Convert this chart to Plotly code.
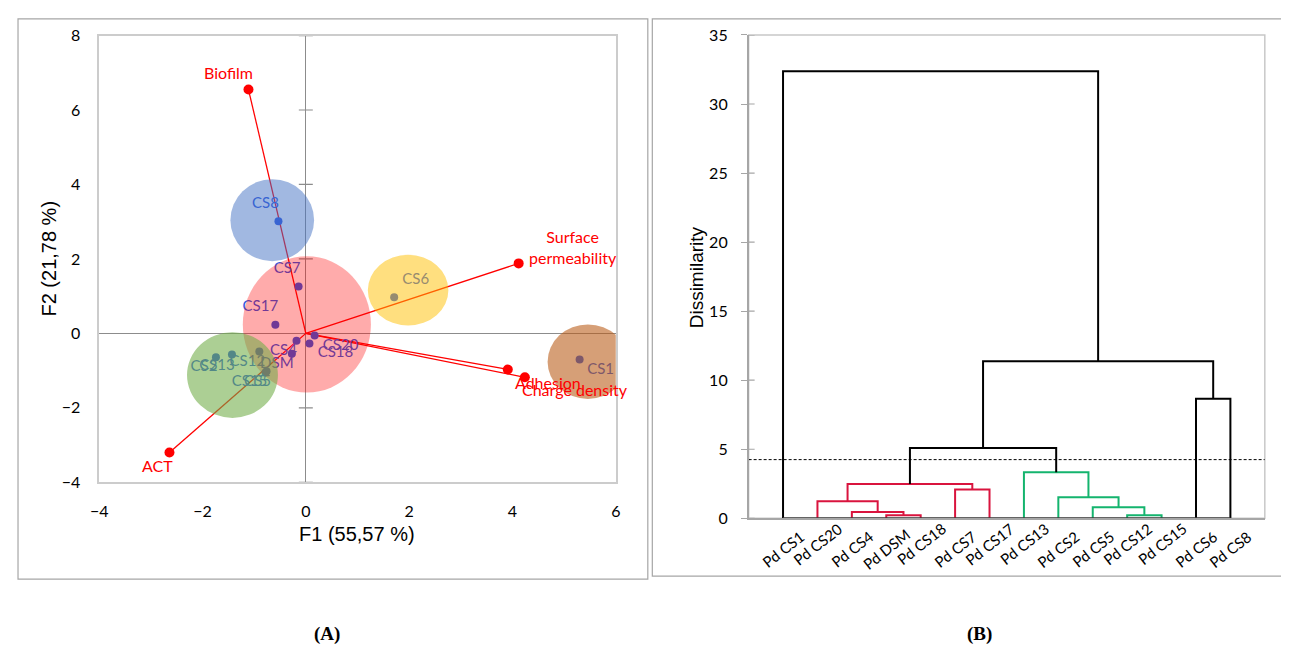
import plotly.graph_objects as go

# ---- page/capture calibration: reference pixel -> figure pixel ----
SX, SY, CX, CY, BODY = 0.988, 0.970, 10.0, 10.0, 8.0
W, H = 1287, 649


def fx(x):
    return (x - CX) / SX - BODY


def fy(y):
    return (y - CY) / SY - BODY


def px(x):
    return fx(x) / W


def py(y):
    return 1 - fy(y) / H


# ---------------- Panel A data (PCA biplot, F1 x F2) ----------------
obs_names = ["CS1", "CS2", "CS4", "CS5", "CS6", "CS7", "CS8", "CS12",
             "CS13", "CS15", "CS17", "CS18", "CS20", "DSM"]
obs_f1 = [5.30, -1.74, -0.18, -0.76, 1.71, -0.14, -0.53, -0.90,
          -1.43, -0.78, -0.59, 0.07, 0.17, -0.27]
obs_f2 = [-0.70, -0.64, -0.20, -1.02, 0.97, 1.26, 3.01, -0.49,
          -0.57, -1.05, 0.23, -0.27, -0.06, -0.55]

var_names = ["Biofilm", "Surface<br>permeability", "Adhesion", "Charge density", "ACT"]
var_f1 = [-1.11, 4.12, 3.91, 4.24, -2.64]
var_f2 = [6.55, 1.88, -0.97, -1.18, -3.20]

f1_ticks = [-4, -2, 0, 2, 4, 6]
f2_ticks = [-4, -2, 0, 2, 4, 6, 8]
f1_title = "F1 (55,57 %)"
f2_title = "F2 (21,78 %)"

# ---------------- Panel B data (dendrogram) ----------------
dend_leaves = ["Pd CS1", "Pd CS20", "Pd CS4", "Pd DSM", "Pd CS18", "Pd CS7", "Pd CS17",
               "Pd CS13", "Pd CS2", "Pd CS5", "Pd CS12", "Pd CS15", "Pd CS6", "Pd CS8"]
# merge k creates node "n{k+1}"
merge_left = ["Pd DSM", "Pd CS4", "Pd CS20", "Pd CS7", "n3", "Pd CS12", "Pd CS5",
              "Pd CS2", "Pd CS13", "n5", "Pd CS6", "n10", "Pd CS1"]
merge_right = ["Pd CS18", "n1", "n2", "Pd CS17", "n4", "Pd CS15", "n6",
               "n7", "n8", "n9", "Pd CS8", "n11", "n12"]
merge_height = [0.22, 0.46, 1.23, 2.08, 2.49, 0.22, 0.80, 1.52, 3.34, 5.09, 8.65, 11.38, 32.37]
merge_group = ["red", "red", "red", "red", "red", "green", "green", "green", "green",
               "black", "black", "black", "black"]
cut_level = 4.25
dis_ticks = [0, 5, 10, 15, 20, 25, 30, 35]
dis_title = "Dissimilarity"

# ---------------- styles / layout geometry (reference pixels) ----------------
CAL = "Lato, 'Open Sans', sans-serif"
ARI = "'Liberation Sans', Arial, sans-serif"
SER = "'Liberation Serif', 'Times New Roman', serif"

A_px = dict(l=100, r=616, t=35.3, b=481.7)
B_px = dict(l=748.7, r=1264.3, t=34.7, b=517.7)
A_xr, A_yr = [-4, 6], [-4, 8]
B_xr, B_yr = [-1, 14], [0, 35]

ax_ppu = (A_px["r"] - A_px["l"]) / (A_xr[1] - A_xr[0])
ay_ppu = (A_px["b"] - A_px["t"]) / (A_yr[1] - A_yr[0])

pt_color = "#2C56E0"
group_colors = {"red": "#D9143E", "green": "#14B46E", "black": "#000000"}

# label offsets in reference pixels (dx right, dy down)
lab_off = {"CS1": (21, 11), "CS2": (-12, 10), "CS4": (-13, 10), "CS5": (-9, 10.5),
           "CS6": (21.5, -17), "CS7": (-11.5, -17), "CS8": (-13, -17), "CS12": (-12, 11),
           "CS13": (-15, 12), "CS15": (-16, 9.5), "CS17": (-15, -17.5), "CS18": (26, 10),
           "CS20": (26, 11), "DSM": (-15, 10)}
var_off = {"Biofilm": (-20, -17), "Surface<br>permeability": (54, -16), "Adhesion": (40, 13),
           "Charge density": (50, 12), "ACT": (-12, 13)}

# cluster ellipses: (center x, center y, rx, ry, fill)
ellipses = [(-0.65, 3.04, 0.81, 1.10, "rgba(68,114,196,0.5)"),
            (0.02, 0.24, 1.24, 1.83, "rgba(255,0,0,0.33)"),
            (1.98, 1.16, 0.78, 0.95, "rgba(255,192,0,0.5)"),
            (-1.42, -1.12, 0.88, 1.15, "rgba(112,173,71,0.58)"),
            (5.46, -0.76, 0.78, 1.00, "rgba(185,90,20,0.58)")]

fig = go.Figure()

# ---- Panel A traces ----
for nm, vx, vy in zip(var_names, var_f1, var_f2):
    fig.add_trace(go.Scatter(x=[0, vx], y=[0, vy], mode="lines",
                             line=dict(color="#FF0000", width=1.3),
                             hoverinfo="skip", showlegend=False, xaxis="x", yaxis="y"))
fig.add_trace(go.Scatter(x=var_f1, y=var_f2, mode="markers",
                         marker=dict(color="#FF0000", size=10),
                         showlegend=False, xaxis="x", yaxis="y"))
fig.add_trace(go.Scatter(x=obs_f1, y=obs_f2, mode="markers",
                         marker=dict(color=pt_color, size=8),
                         showlegend=False, xaxis="x", yaxis="y"))
lx = [x + lab_off[n][0] / ax_ppu for n, x in zip(obs_names, obs_f1)]
ly = [y - lab_off[n][1] / ay_ppu for n, y in zip(obs_names, obs_f2)]
fig.add_trace(go.Scatter(x=lx, y=ly, mode="text", text=obs_names,
                         textposition="middle center",
                         textfont=dict(family=CAL, size=15, color=pt_color),
                         showlegend=False, xaxis="x", yaxis="y"))

# ---- Panel B traces (dendrogram) ----
pos = {lf: float(i) for i, lf in enumerate(dend_leaves)}
hgt = {lf: 0.0 for lf in dend_leaves}
for k, (a, b, h, g) in enumerate(zip(merge_left, merge_right, merge_height, merge_group)):
    xa, xb = pos[a], pos[b]
    fig.add_trace(go.Scatter(x=[xa, xa, xb, xb], y=[hgt[a], h, h, hgt[b]], mode="lines",
                             line=dict(color=group_colors[g], width=2),
                             hoverinfo="skip", showlegend=False, xaxis="x2", yaxis="y2"))
    node = "n%d" % (k + 1)
    pos[node] = (xa + xb) / 2
    hgt[node] = h
fig.add_trace(go.Scatter(x=[0, len(dend_leaves) - 1], y=[0, 0], mode="lines",
                         line=dict(color="#3A3A3A", width=2.2),
                         hoverinfo="skip", showlegend=False, xaxis="x2", yaxis="y2"))
fig.add_trace(go.Scatter(x=B_xr, y=[cut_level, cut_level], mode="lines",
                         line=dict(color="#000000", width=1, dash="3px,2px"),
                         hoverinfo="skip", showlegend=False, xaxis="x2", yaxis="y2"))

shapes = []
for cx, cy, rx, ry, col in ellipses:
    shapes.append(dict(type="circle", xref="x", yref="y", x0=cx - rx, x1=cx + rx,
                       y0=cy - ry, y1=cy + ry, fillcolor=col, line=dict(width=0),
                       layer="above"))
for t in f2_ticks:
    if t != 0:
        shapes.append(dict(type="line", xref="x", yref="y", xsizemode="pixel", xanchor=0,
                           x0=-7, x1=7, y0=t, y1=t, line=dict(color="#8C8C8C", width=1.2),
                           layer="below"))
for t in dis_ticks:
    shapes.append(dict(type="line", xref="x2", yref="y2", xsizemode="pixel", xanchor=B_xr[0],
                       x0=0, x1=6, y0=t, y1=t, line=dict(color="#A6A6A6", width=1.2),
                       layer="below"))
shapes.append(dict(type="rect", xref="x2 domain", yref="y2 domain", x0=0, x1=1, y0=0, y1=1,
                   line=dict(color="#C8C8C8", width=1.5), layer="below"))
shapes.append(dict(type="rect", xref="paper", yref="paper", x0=max(px(7.5), 0.0008), x1=px(648),
                   y0=py(578.5), y1=min(py(7.5), 0.9985), line=dict(color="#A6A6A6", width=1.2)))
shapes.append(dict(type="rect", xref="paper", yref="paper", x0=px(652.5), x1=1.05,
                   y0=py(575.5), y1=min(py(7.3), 0.9985), line=dict(color="#A6A6A6", width=1.2)))


def text_ann(x, y, text, size, family=CAL, angle=0, color="#000"):
    return dict(x=px(x), y=py(y), xref="paper", yref="paper", text=text, showarrow=False,
                xanchor="center", yanchor="middle", textangle=angle,
                font=dict(family=family, size=size, color=color))


ann = []
for nm, vx, vy in zip(var_names, var_f1, var_f2):
    dx, dy = var_off[nm]
    ann.append(dict(x=vx, y=vy, xref="x", yref="y", text=nm, showarrow=False,
                    xanchor="center", yanchor="middle",
                    xshift=dx / SX, yshift=-dy / SY,
                    font=dict(family=CAL, size=16, color="#FF0000")))
ann.append(text_ann(357.5, 533, f1_title, 20, ARI))
ann.append(text_ann(50, 258, f2_title, 20, ARI, -90))
ann.append(text_ann(697, 277, dis_title, 19, ARI, -90))
for i, lf in enumerate(dend_leaves):
    yc = 548 - 5 * (len(lf) - 6)
    ann.append(dict(x=i, y=py(yc), xref="x2", yref="paper", text=lf, showarrow=False,
                    textangle=-38, xanchor="center", yanchor="middle",
                    font=dict(family=CAL, size=15, color="#000")))
ann.append(text_ann(328, 633, "<b>(A)</b>", 19, SER))
ann.append(text_ann(979, 633, "<b>(B)</b>", 19, SER))

fig.update_layout(
    width=W, height=H, margin=dict(l=0, r=0, t=0, b=0),
    paper_bgcolor="white", plot_bgcolor="white", showlegend=False,
    shapes=shapes, annotations=ann,
    xaxis=dict(domain=[px(A_px["l"]), px(A_px["r"])], range=A_xr, tickvals=f1_ticks,
               showgrid=False, zeroline=True, zerolinecolor="#8C8C8C", zerolinewidth=1.3,
               showline=True, linecolor="#CCCCCC", linewidth=1.5, mirror=True, ticks="",
               ticklabelstandoff=14, tickfont=dict(family=CAL, size=16, color="#000"),
               anchor="y"),
    yaxis=dict(domain=[py(A_px["b"]), py(A_px["t"])], range=A_yr, tickvals=f2_ticks,
               showgrid=False, zeroline=True, zerolinecolor="#8C8C8C", zerolinewidth=1.3,
               showline=True, linecolor="#CCCCCC", linewidth=1.5, mirror=True, ticks="",
               ticklabelstandoff=14, tickfont=dict(family=CAL, size=16, color="#000"),
               anchor="x"),
    xaxis2=dict(domain=[px(B_px["l"]), px(B_px["r"])], range=B_xr, showticklabels=False,
                showgrid=False, zeroline=False, showline=True, linecolor="#A6A6A6",
                linewidth=1.5, ticks="", anchor="y2"),
    yaxis2=dict(domain=[py(B_px["b"]), py(B_px["t"])], range=B_yr, tickvals=dis_ticks,
                showgrid=False, zeroline=False, showline=True, linecolor="#A6A6A6",
                linewidth=1.5, ticks="outside", ticklen=6, tickcolor="#A6A6A6",
                ticklabelstandoff=10, tickfont=dict(family=CAL, size=16, color="#000"),
                anchor="x2"),
)

fig.write_html("out.html")
